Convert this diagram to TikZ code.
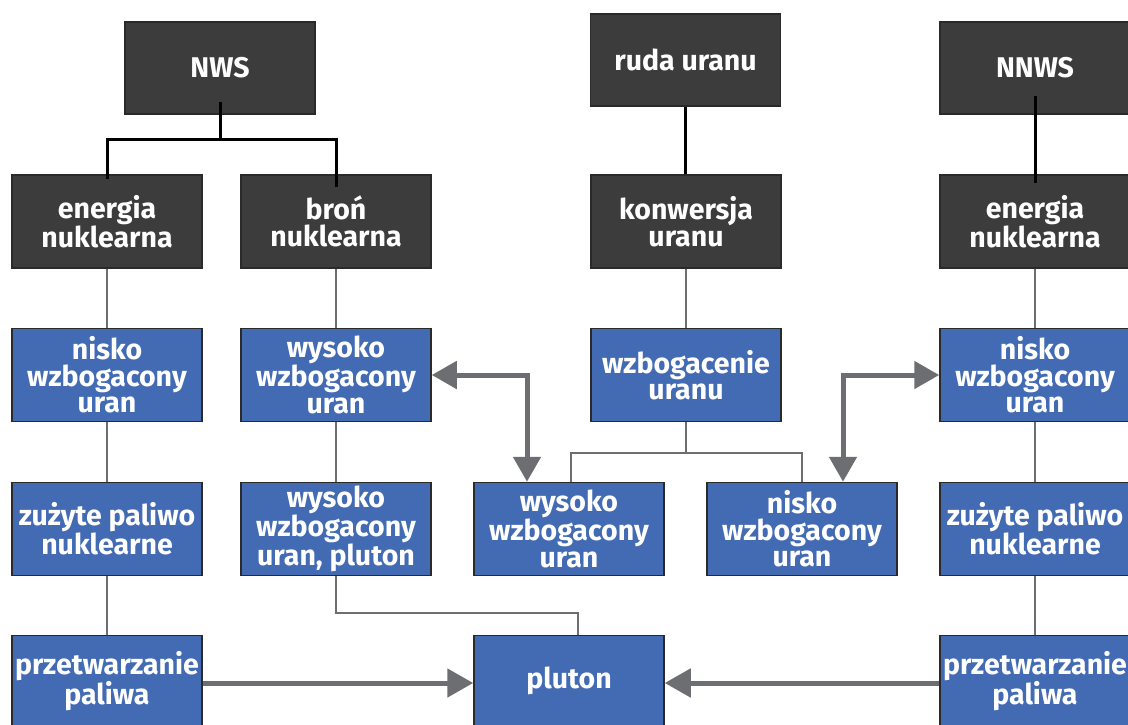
\documentclass[tikz,border=0pt]{standalone}
\usepackage{fontspec}
\setmainfont{Fira Sans}
\usetikzlibrary{arrows.meta,calc}
\definecolor{darkbox}{HTML}{3C3C3C}
\definecolor{bluebox}{HTML}{436BB4}
\definecolor{edgec}{HTML}{2A2A2A}
\definecolor{linegrey}{HTML}{6D6E71}
\tikzset{
  box/.style={draw=edgec, line width=1.5pt, minimum width=190pt, minimum height=93pt,
    align=center, text=white, inner sep=0pt,
    font=\fontsize{28.5}{26.5}\selectfont\bfseries},
  dbox/.style={box, fill=darkbox},
  bbox/.style={box, fill=bluebox},
  thinline/.style={draw=linegrey, line width=2pt},
  blackline/.style={draw=black, line width=3pt},
  thickarrow/.style={draw=linegrey, line width=5pt,
    arrows={Triangle[length=25pt,width=27pt,fill=linegrey]-Triangle[length=25pt,width=27pt,fill=linegrey]}},
  onearrow/.style={draw=linegrey, line width=5pt,
    arrows={-Triangle[length=26pt,width=28pt,fill=linegrey]}}
}
\begin{document}
\begin{tikzpicture}[x=1pt,y=-1pt]
\useasboundingbox (0,0) rectangle (1128,724);
\clip (0,0) rectangle (1128,724);
\fill[white] (0,0) rectangle (1128,724);
% row 1
\node[dbox, minimum height=92pt] (nws) at (220,68) {NWS};
\node[dbox, minimum height=92pt] (ruda) at (685.5,60) {ruda uranu};
\node[dbox, minimum height=92pt] (nnws) at (1035,68) {NNWS};
% row 2
\node[dbox] (en1) at (107,221.5) {energia\\nuklearna};
\node[dbox] (bron) at (336,221.5) {broń\\nuklearna};
\node[dbox] (konw) at (686,221.5) {konwersja\\uranu};
\node[dbox] (en2) at (1035,221.5) {energia\\nuklearna};
% row 3
\node[bbox] (nis1) at (107,375) {nisko\\wzbogacony\\uran};
\node[bbox] (wys1) at (336,375) {wysoko\\wzbogacony\\uran};
\node[bbox] (wzb) at (686,375) {wzbogacenie\\uranu};
\node[bbox] (nis3) at (1035,375) {nisko\\wzbogacony\\uran};
% row 4
\node[bbox] (zuz1) at (107,529) {zużyte paliwo\\nuklearne};
\node[bbox] (wysp) at (336,529) {wysoko\\wzbogacony\\uran, pluton};
\node[bbox] (wys2) at (569,529) {wysoko\\wzbogacony\\uran};
\node[bbox] (nis2) at (802,529) {nisko\\wzbogacony\\uran};
\node[bbox] (zuz2) at (1035,529) {zużyte paliwo\\nuklearne};
% row 5
\node[bbox, minimum height=91pt] (prz1) at (107,681) {przetwarzanie\\paliwa};
\node[bbox, minimum height=91pt] (plut) at (569,681) {pluton};
\node[bbox, minimum height=91pt] (prz2) at (1035,681) {przetwarzanie\\paliwa};
% black connectors
\coordinate (nwsj) at ($(nws.south)+(0,26)$);
\draw[blackline] ($(nws.south)+(0,-13)$) -- (nwsj);
\draw[blackline] ($(en1.north)+(0,5)$) |- ($(bron.north)+(0,-35)$) -- ($(bron.north)+(0,13)$);
\draw[blackline] (ruda.south) -- (ruda.south |- konw.north);
\draw[blackline] ($(nnws.south)+(0,-19)$) -- ($(en2.north)+(0,9)$);
% thin grey connectors
\draw[thinline] (en1) -- (nis1);
\draw[thinline] (nis1) -- (zuz1);
\draw[thinline] (zuz1) -- (prz1);
\draw[thinline] (bron) -- (wys1);
\draw[thinline] (wys1) -- (wysp);
\draw[thinline] (konw) -- (wzb);
\draw[thinline] (en2) -- (nis3);
\draw[thinline] (nis3) -- (zuz2);
\draw[thinline] (zuz2) -- (prz2);
\coordinate (wzbj) at ($(wzb.south)+(0,31)$);
\draw[thinline] (wzb.south) -- (wzbj);
\draw[thinline] ($(wys2.north)+(2,0)$) |- (wzbj) -| (nis2.north);
\draw[thinline] (wysp.south) |- ($(plut.north)+(9,-22)$) -- ($(plut.north)+(9,0)$);
% thick arrows
\draw[thickarrow] (wys1.east) -| ($(wys2.north)+(-42,0)$);
\draw[thickarrow] (nis3.west) -| ($(nis2.north)+(41,0)$);
\draw[onearrow] ($(prz1.east)+(0,2)$) -- ($(plut.west)+(0,2)$);
\draw[onearrow] ($(prz2.west)+(0,2)$) -- ($(plut.east)+(0,2)$);
\end{tikzpicture}
\end{document}
